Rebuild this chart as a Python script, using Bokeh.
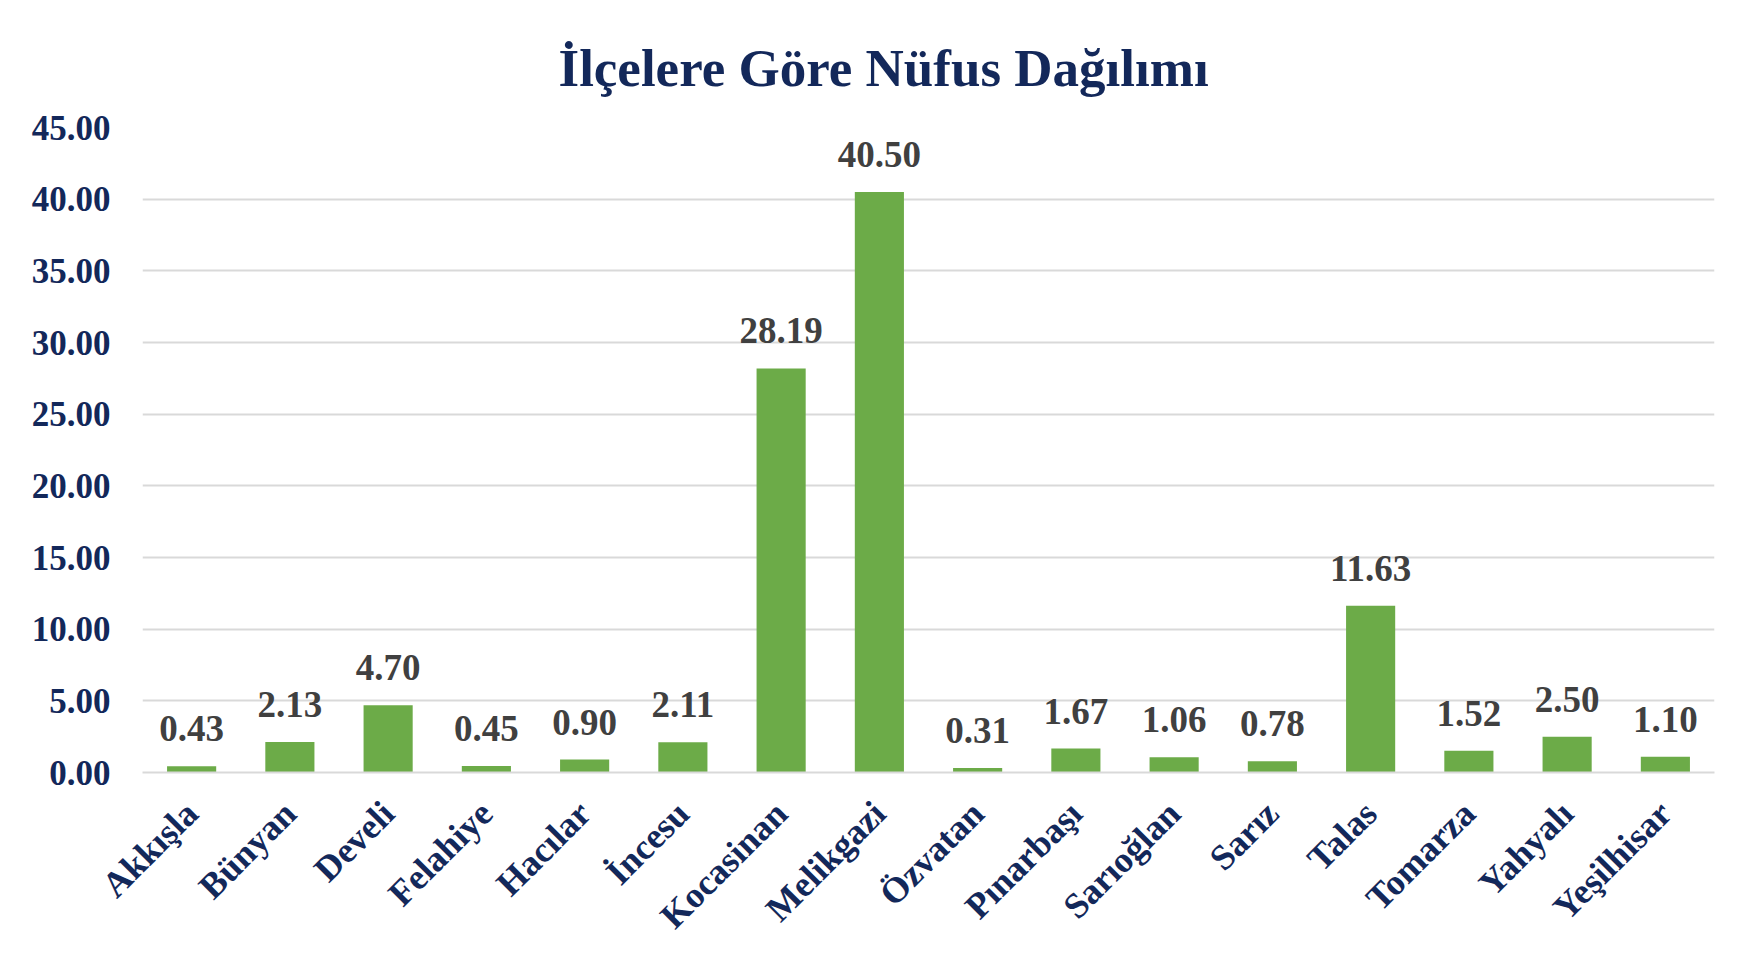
import math
from bokeh.plotting import figure
from bokeh.models import (ColumnDataSource, LabelSet, NumeralTickFormatter,
                          FixedTicker, Range1d, FactorRange)
from bokeh.embed import file_html
from bokeh.resources import INLINE

districts = ["Akkışla", "Bünyan", "Develi", "Felahiye", "Hacılar", "İncesu",
             "Kocasinan", "Melikgazi", "Özvatan", "Pınarbaşı", "Sarıoğlan",
             "Sarız", "Talas", "Tomarza", "Yahyalı", "Yeşilhisar"]
shares = [0.43, 2.13, 4.70, 0.45, 0.90, 2.11, 28.19, 40.50, 0.31, 1.67,
          1.06, 0.78, 11.63, 1.52, 2.50, 1.10]
y_ticks = [0, 5, 10, 15, 20, 25, 30, 35, 40, 45]
title_text = "İlçelere Göre Nüfus Dağılımı"

NAVY = "#13285a"
SERIF = "Liberation Serif"

src = ColumnDataSource(dict(x=districts, top=shares,
                            lbl=["%.2f" % v for v in shares]))

p = figure(x_range=FactorRange(*districts), y_range=Range1d(0, 45),
           width=1751, height=953, output_backend="svg",
           toolbar_location=None,
           min_border_left=142, min_border_right=37,
           min_border_top=127, min_border_bottom=180)

p.title.text = title_text
p.title.align = "left"
p.title.offset = 416
p.title.standoff = 62
p.title.text_font = SERIF
p.title.text_font_size = "53px"
p.title.text_font_style = "bold"
p.title.text_color = NAVY

p.vbar(x="x", top="top", width=0.5, source=src, fill_color="#6cab48",
       line_color=None)

labels = LabelSet(x="x", y="top", text="lbl", source=src, y_offset=25,
                  text_align="center", text_baseline="alphabetic",
                  text_font=SERIF, text_font_size="37px",
                  text_font_style="bold", text_color="#404040")
p.add_layout(labels)

p.outline_line_color = None
p.xgrid.grid_line_color = None
p.ygrid.ticker = FixedTicker(ticks=y_ticks)
p.ygrid.grid_line_color = "#d9d9d9"
p.ygrid.grid_line_width = 2

p.yaxis.ticker = FixedTicker(ticks=y_ticks)
p.yaxis.formatter = NumeralTickFormatter(format="0.00")
p.yaxis.axis_line_color = None
p.yaxis.major_tick_line_color = None
p.yaxis.minor_tick_line_color = None
p.yaxis.major_label_standoff = 26
p.yaxis.major_label_text_font = SERIF
p.yaxis.major_label_text_font_size = "35px"
p.yaxis.major_label_text_font_style = "bold"
p.yaxis.major_label_text_color = NAVY

p.xaxis.axis_line_color = "#d9d9d9"
p.xaxis.axis_line_width = 2
p.xaxis.major_tick_line_color = None
p.xaxis.minor_tick_line_color = None
p.xaxis.major_label_orientation = math.pi / 4
p.xaxis.major_label_standoff = 29
p.xaxis.major_label_text_font = SERIF
p.xaxis.major_label_text_font_size = "36px"
p.xaxis.major_label_text_font_style = "bold"
p.xaxis.major_label_text_color = NAVY

open("out.html", "w").write(file_html(p, INLINE))
